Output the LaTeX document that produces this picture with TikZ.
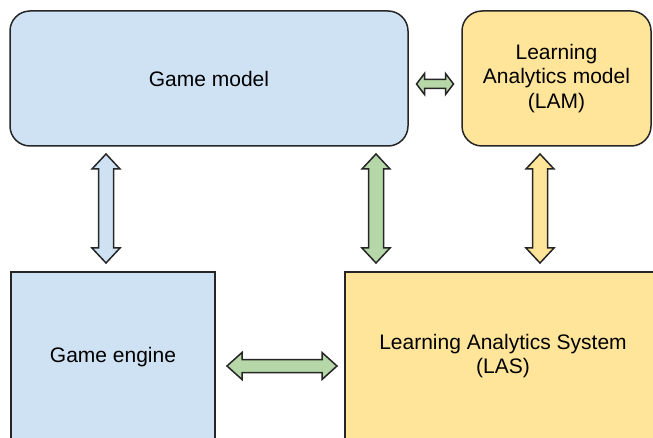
\documentclass[tikz,border=0pt]{standalone}
\usepackage{fontspec}
\setmainfont{Liberation Sans}
\usetikzlibrary{calc}
\definecolor{boxblue}{HTML}{CFE2F3}
\definecolor{boxyellow}{HTML}{FFE599}
\definecolor{arrgreen}{HTML}{B6D7A8}
\definecolor{edge}{HTML}{262626}
\tikzset{
  box/.style={draw=edge, line width=1.5pt, inner sep=0pt, align=center,
    font=\fontsize{21}{24.5}\selectfont},
  arrowline/.style={draw=edge, line width=1.5pt, line join=miter},
}
\newcommand\dbarrow[6]{%
  \coordinate (tmpA) at ($(#1)!#5!(#2)$);
  \coordinate (tmpB) at ($(#2)!#5!(#1)$);
  \filldraw[arrowline, fill=#6] (#1) -- ($(tmpA)!#4!90:(#2)$) -- ($(tmpA)!#3!90:(#2)$)
    -- ($(tmpB)!#3!-90:(#1)$) -- ($(tmpB)!#4!-90:(#1)$) -- (#2)
    -- ($(tmpB)!#4!90:(#1)$) -- ($(tmpB)!#3!90:(#1)$)
    -- ($(tmpA)!#3!-90:(#2)$) -- ($(tmpA)!#4!-90:(#2)$) -- cycle;
}
\begin{document}
\begin{tikzpicture}[x=1pt,y=-1pt]
\useasboundingbox (0,0) rectangle (653,438);
\clip (0,0) rectangle (653,438);
\fill[white] (0,0) rectangle (653,438);
% boxes
\node[box, fill=boxblue, rounded corners=20pt, minimum width=398pt, minimum height=135pt] (gm) at (209,78.5) {Game model};
\node[box, fill=boxyellow, rounded corners=20pt, minimum width=189pt, minimum height=135pt] (lam) at (556.5,78.5) {Learning\\Analytics model\\(LAM)};
\node[box, fill=boxblue, minimum width=204pt, minimum height=170pt] (ge) at (113,357) {Game engine};
\node[box, fill=boxyellow, minimum width=316pt, minimum height=168pt] (las) at (503,356) {Learning Analytics System\\(LAS)};
% arrow end points
\coordinate (v1a) at (106,154); \coordinate (v1b) at (106,263);
\coordinate (v2a) at (376,154); \coordinate (v2b) at (376,263);
\coordinate (v3a) at (540,154); \coordinate (v3b) at (540,263);
\coordinate (h1a) at (416.5,84); \coordinate (h1b) at (453.5,84);
\coordinate (h2a) at (227,366); \coordinate (h2b) at (337,366);
% arrows
\dbarrow{v1a}{v1b}{7.5pt}{14pt}{15pt}{boxblue}
\dbarrow{v2a}{v2b}{7.5pt}{14pt}{15pt}{arrgreen}
\dbarrow{v3a}{v3b}{7.5pt}{14pt}{15pt}{boxyellow}
\dbarrow{h1a}{h1b}{4.5pt}{10.5pt}{8pt}{arrgreen}
\dbarrow{h2a}{h2b}{6.5pt}{13.5pt}{15pt}{arrgreen}
\end{tikzpicture}
\end{document}
